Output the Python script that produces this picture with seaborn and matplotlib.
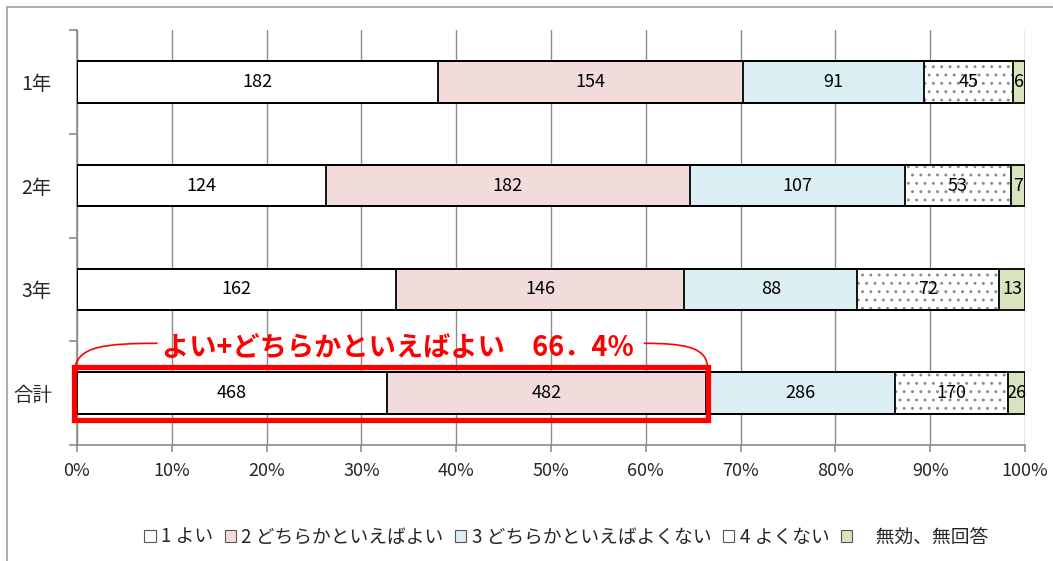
import matplotlib
matplotlib.use("Agg")
import matplotlib.pyplot as plt
import matplotlib.patches as mpatches
from matplotlib.path import Path
import seaborn as sns
import numpy as np
import pandas as pd

# data
grades = ["1年", "2年", "3年", "合計"]
answers = ["1 よい", "2 どちらかといえばよい", "3 どちらかといえばよくない", "4 よくない", "\u3000無効、無回答"]
yoi = [182, 124, 162, 468]
dochira_yoi = [154, 182, 146, 482]
dochira_yokunai = [91, 107, 88, 286]
yokunai = [45, 53, 72, 170]
mukou = [6, 7, 13, 26]
callout_text = "よい+どちらかといえばよい\u300066．4%"

colors = ["#ffffff", "#f2dcdb", "#dbeef4", "#ffffff", "#d7e4bd"]
hatches = [None, None, None, "..", None]

sns.set_theme(style="white")
plt.rcParams["font.family"] = ["Noto Sans CJK JP", "DejaVu Sans"]
plt.rcParams["hatch.linewidth"] = 0.9

counts = np.array([yoi, dochira_yoi, dochira_yokunai, yokunai, mukou], dtype=float)
pct = counts / counts.sum(axis=0) * 100
cum = np.cumsum(pct, axis=0)

fig = plt.figure(figsize=(10.53, 5.61), dpi=100)
ax = fig.add_axes([77 / 1053, 1 - 445 / 561, 948 / 1053, 415 / 561])

# stacked bars: draw cumulative totals from the largest down
for k in range(len(answers) - 1, -1, -1):
    df = pd.DataFrame({"grade": grades, "value": cum[k]})
    sns.barplot(data=df, x="value", y="grade", orient="h", color=colors[k],
                width=0.4, errorbar=None, saturation=1, linewidth=0,
                edgecolor="#8a8a8a", hatch=hatches[k], ax=ax, zorder=2)
# outlines
for k in range(len(answers)):
    df = pd.DataFrame({"grade": grades, "value": cum[k]})
    sns.barplot(data=df, x="value", y="grade", orient="h", color="black",
                fill=False, width=0.4, errorbar=None, linewidth=1.3,
                ax=ax, zorder=3)

# segment labels
for k in range(len(answers)):
    for i in range(len(grades)):
        center = cum[k][i] - pct[k][i] / 2
        ax.text(center, i, str(int(counts[k][i])), ha="center", va="center",
                fontsize=13, color="black", zorder=4)

ax.set_xlim(0, 100)
ax.set_ylim(3.5, -0.5)
ax.set_xticks(np.arange(0, 101, 10))
ax.set_xticklabels([f"{v}%" for v in range(0, 101, 10)], fontsize=13)
ax.set_yticks(range(len(grades)))
ax.set_yticklabels(grades, fontsize=14)
ax.set_yticks(np.arange(-0.5, 4.0, 1.0), minor=True)
ax.set_xlabel("")
ax.set_ylabel("")
ax.grid(axis="x", color="#8c8c8c", linewidth=1.0, zorder=0)
ax.grid(axis="y", visible=False)
ax.set_axisbelow(True)
for side in ["top", "right"]:
    ax.spines[side].set_visible(False)
for side in ["left", "bottom"]:
    ax.spines[side].set_color("#8c8c8c")
    ax.spines[side].set_linewidth(1.2)
ax.tick_params(axis="x", which="major", length=5, color="#8c8c8c", width=1.2,
               direction="out", bottom=True, pad=7)
ax.tick_params(axis="y", which="major", length=0, pad=18)
ax.tick_params(axis="y", which="minor", length=6, color="#8c8c8c", width=1.2,
               direction="out", left=True)

# red highlight box around 合計 "よい + どちらかといえばよい"
good = cum[1][3]
box = mpatches.Rectangle((-0.3, 3 - 0.255), good + 0.5, 0.51, fill=False,
                         edgecolor="#ff0000", linewidth=3.8, clip_on=False, zorder=5)
ax.add_patch(box)

# brace curves
yb = 3 - 0.255
ytop = 2.52
left_path = Path([(-0.2, yb), (0.3, ytop + 0.03), (3, ytop), (8.5, ytop)],
                 [Path.MOVETO, Path.CURVE4, Path.CURVE4, Path.CURVE4])
right_path = Path([(59.8, ytop), (63.8, ytop), (66.4, ytop + 0.03), (66.5, yb)],
                  [Path.MOVETO, Path.CURVE4, Path.CURVE4, Path.CURVE4])
for p in (left_path, right_path):
    ax.add_patch(mpatches.PathPatch(p, fill=False, edgecolor="#ff0000",
                                    linewidth=1.2, clip_on=False, zorder=5))
ax.text(33.8, 2.57, callout_text, ha="center", va="center", fontsize=19.6,
        fontweight="bold", color="#ff0000", zorder=6)

# legend
handles = [mpatches.Patch(facecolor=colors[k], edgecolor="#555555", linewidth=0.8)
           for k in range(len(answers))]
fig.legend(handles, answers, loc="center", bbox_to_anchor=(0.538, 0.043),
           ncol=5, frameon=False, fontsize=13.5, handlelength=0.6,
           handleheight=0.6, handletextpad=0.3, columnspacing=0.6)

# outer chart border
fig.patches.append(mpatches.Rectangle((7 / 1053, -0.1), 1.2, 1 - 7 / 561 + 0.1,
                                      transform=fig.transFigure, fill=False,
                                      edgecolor="#a0a0a0", linewidth=1.2))

fig.savefig("out.png", dpi=100, facecolor="white")
